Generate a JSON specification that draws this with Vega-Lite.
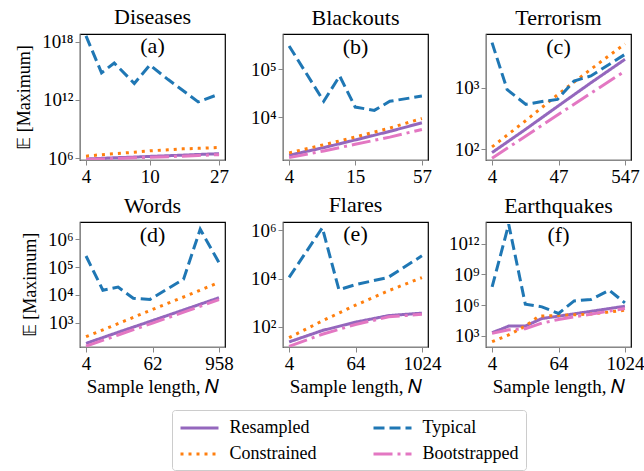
{
  "$schema": "https://vega.github.io/schema/vega-lite/v6.json",
  "background": "white",
  "padding": {"left": 15, "top": 5, "right": 5, "bottom": 5},
  "datasets": {
    "d": [
      {"panel": "Diseases", "series": "Resampled", "N": 4, "value": 7.94e5},
      {"panel": "Diseases", "series": "Resampled", "N": 5, "value": 9.33e5},
      {"panel": "Diseases", "series": "Resampled", "N": 6, "value": 1.07e6},
      {"panel": "Diseases", "series": "Resampled", "N": 8, "value": 1.26e6},
      {"panel": "Diseases", "series": "Resampled", "N": 10, "value": 1.48e6},
      {"panel": "Diseases", "series": "Resampled", "N": 13, "value": 1.74e6},
      {"panel": "Diseases", "series": "Resampled", "N": 16, "value": 2.0e6},
      {"panel": "Diseases", "series": "Resampled", "N": 20, "value": 2.34e6},
      {"panel": "Diseases", "series": "Resampled", "N": 27, "value": 2.82e6},
      {"panel": "Diseases", "series": "Constrained", "N": 4, "value": 1.58e6},
      {"panel": "Diseases", "series": "Constrained", "N": 5, "value": 2.24e6},
      {"panel": "Diseases", "series": "Constrained", "N": 6, "value": 2.82e6},
      {"panel": "Diseases", "series": "Constrained", "N": 8, "value": 3.98e6},
      {"panel": "Diseases", "series": "Constrained", "N": 10, "value": 5.62e6},
      {"panel": "Diseases", "series": "Constrained", "N": 13, "value": 7.08e6},
      {"panel": "Diseases", "series": "Constrained", "N": 16, "value": 8.91e6},
      {"panel": "Diseases", "series": "Constrained", "N": 20, "value": 1.0e7},
      {"panel": "Diseases", "series": "Constrained", "N": 27, "value": 1.26e7},
      {"panel": "Diseases", "series": "Typical", "N": 4, "value": 3.98e18},
      {"panel": "Diseases", "series": "Typical", "N": 5, "value": 6.31e14},
      {"panel": "Diseases", "series": "Typical", "N": 6, "value": 6.31e15},
      {"panel": "Diseases", "series": "Typical", "N": 8, "value": 5.01e13},
      {"panel": "Diseases", "series": "Typical", "N": 10, "value": 3.98e15},
      {"panel": "Diseases", "series": "Typical", "N": 13, "value": 1.26e14},
      {"panel": "Diseases", "series": "Typical", "N": 16, "value": 1.0e13},
      {"panel": "Diseases", "series": "Typical", "N": 20, "value": 6.31e11},
      {"panel": "Diseases", "series": "Typical", "N": 27, "value": 3.98e12},
      {"panel": "Diseases", "series": "Bootstrapped", "N": 4, "value": 7.08e5},
      {"panel": "Diseases", "series": "Bootstrapped", "N": 5, "value": 7.94e5},
      {"panel": "Diseases", "series": "Bootstrapped", "N": 6, "value": 8.91e5},
      {"panel": "Diseases", "series": "Bootstrapped", "N": 8, "value": 1.05e6},
      {"panel": "Diseases", "series": "Bootstrapped", "N": 10, "value": 1.2e6},
      {"panel": "Diseases", "series": "Bootstrapped", "N": 13, "value": 1.38e6},
      {"panel": "Diseases", "series": "Bootstrapped", "N": 16, "value": 1.58e6},
      {"panel": "Diseases", "series": "Bootstrapped", "N": 20, "value": 1.86e6},
      {"panel": "Diseases", "series": "Bootstrapped", "N": 27, "value": 2.24e6},

      {"panel": "Blackouts", "series": "Resampled", "N": 4, "value": 1585},
      {"panel": "Blackouts", "series": "Resampled", "N": 8, "value": 2291},
      {"panel": "Blackouts", "series": "Resampled", "N": 15, "value": 3311},
      {"panel": "Blackouts", "series": "Resampled", "N": 30, "value": 5012},
      {"panel": "Blackouts", "series": "Resampled", "N": 57, "value": 7586},
      {"panel": "Blackouts", "series": "Constrained", "N": 4, "value": 1778},
      {"panel": "Blackouts", "series": "Constrained", "N": 8, "value": 2630},
      {"panel": "Blackouts", "series": "Constrained", "N": 15, "value": 3802},
      {"panel": "Blackouts", "series": "Constrained", "N": 30, "value": 5888},
      {"panel": "Blackouts", "series": "Constrained", "N": 57, "value": 9333},
      {"panel": "Blackouts", "series": "Typical", "N": 4, "value": 3.09e5},
      {"panel": "Blackouts", "series": "Typical", "N": 8, "value": 2.14e4},
      {"panel": "Blackouts", "series": "Typical", "N": 11, "value": 7.24e4},
      {"panel": "Blackouts", "series": "Typical", "N": 15, "value": 1.62e4},
      {"panel": "Blackouts", "series": "Typical", "N": 22, "value": 1.38e4},
      {"panel": "Blackouts", "series": "Typical", "N": 30, "value": 2.14e4},
      {"panel": "Blackouts", "series": "Typical", "N": 57, "value": 2.75e4},
      {"panel": "Blackouts", "series": "Bootstrapped", "N": 4, "value": 1413},
      {"panel": "Blackouts", "series": "Bootstrapped", "N": 8, "value": 1950},
      {"panel": "Blackouts", "series": "Bootstrapped", "N": 15, "value": 2692},
      {"panel": "Blackouts", "series": "Bootstrapped", "N": 30, "value": 3802},
      {"panel": "Blackouts", "series": "Bootstrapped", "N": 57, "value": 5495},

      {"panel": "Terrorism", "series": "Resampled", "N": 4, "value": 89},
      {"panel": "Terrorism", "series": "Resampled", "N": 14, "value": 214},
      {"panel": "Terrorism", "series": "Resampled", "N": 47, "value": 513},
      {"panel": "Terrorism", "series": "Resampled", "N": 155, "value": 1202},
      {"panel": "Terrorism", "series": "Resampled", "N": 547, "value": 2884},
      {"panel": "Terrorism", "series": "Constrained", "N": 4, "value": 110},
      {"panel": "Terrorism", "series": "Constrained", "N": 14, "value": 295},
      {"panel": "Terrorism", "series": "Constrained", "N": 47, "value": 794},
      {"panel": "Terrorism", "series": "Constrained", "N": 155, "value": 1995},
      {"panel": "Terrorism", "series": "Constrained", "N": 547, "value": 5129},
      {"panel": "Terrorism", "series": "Typical", "N": 4, "value": 5370},
      {"panel": "Terrorism", "series": "Typical", "N": 7, "value": 933},
      {"panel": "Terrorism", "series": "Typical", "N": 14, "value": 537},
      {"panel": "Terrorism", "series": "Typical", "N": 27, "value": 603},
      {"panel": "Terrorism", "series": "Typical", "N": 45, "value": 646},
      {"panel": "Terrorism", "series": "Typical", "N": 83, "value": 1288},
      {"panel": "Terrorism", "series": "Typical", "N": 155, "value": 1549},
      {"panel": "Terrorism", "series": "Typical", "N": 547, "value": 3467},
      {"panel": "Terrorism", "series": "Bootstrapped", "N": 4, "value": 72},
      {"panel": "Terrorism", "series": "Bootstrapped", "N": 14, "value": 166},
      {"panel": "Terrorism", "series": "Bootstrapped", "N": 47, "value": 372},
      {"panel": "Terrorism", "series": "Bootstrapped", "N": 155, "value": 813},
      {"panel": "Terrorism", "series": "Bootstrapped", "N": 547, "value": 1862},

      {"panel": "Words", "series": "Resampled", "N": 4, "value": 182},
      {"panel": "Words", "series": "Resampled", "N": 15, "value": 457},
      {"panel": "Words", "series": "Resampled", "N": 62, "value": 1202},
      {"panel": "Words", "series": "Resampled", "N": 245, "value": 3090},
      {"panel": "Words", "series": "Resampled", "N": 958, "value": 7943},
      {"panel": "Words", "series": "Constrained", "N": 4, "value": 316},
      {"panel": "Words", "series": "Constrained", "N": 15, "value": 933},
      {"panel": "Words", "series": "Constrained", "N": 62, "value": 3020},
      {"panel": "Words", "series": "Constrained", "N": 245, "value": 9120},
      {"panel": "Words", "series": "Constrained", "N": 958, "value": 28200},
      {"panel": "Words", "series": "Typical", "N": 4, "value": 2.51e5},
      {"panel": "Words", "series": "Typical", "N": 8, "value": 1.48e4},
      {"panel": "Words", "series": "Typical", "N": 15, "value": 1.91e4},
      {"panel": "Words", "series": "Typical", "N": 28, "value": 7586},
      {"panel": "Words", "series": "Typical", "N": 56, "value": 6918},
      {"panel": "Words", "series": "Typical", "N": 110, "value": 1.58e4},
      {"panel": "Words", "series": "Typical", "N": 222, "value": 3.63e4},
      {"panel": "Words", "series": "Typical", "N": 442, "value": 2.29e6},
      {"panel": "Words", "series": "Typical", "N": 958, "value": 1.45e5},
      {"panel": "Words", "series": "Bootstrapped", "N": 4, "value": 145},
      {"panel": "Words", "series": "Bootstrapped", "N": 15, "value": 363},
      {"panel": "Words", "series": "Bootstrapped", "N": 62, "value": 977},
      {"panel": "Words", "series": "Bootstrapped", "N": 245, "value": 2570},
      {"panel": "Words", "series": "Bootstrapped", "N": 958, "value": 6761},

      {"panel": "Flares", "series": "Resampled", "N": 4, "value": 24},
      {"panel": "Flares", "series": "Resampled", "N": 16, "value": 71},
      {"panel": "Flares", "series": "Resampled", "N": 64, "value": 158},
      {"panel": "Flares", "series": "Resampled", "N": 256, "value": 295},
      {"panel": "Flares", "series": "Resampled", "N": 1024, "value": 372},
      {"panel": "Flares", "series": "Constrained", "N": 4, "value": 36},
      {"panel": "Flares", "series": "Constrained", "N": 16, "value": 178},
      {"panel": "Flares", "series": "Constrained", "N": 64, "value": 794},
      {"panel": "Flares", "series": "Constrained", "N": 256, "value": 3162},
      {"panel": "Flares", "series": "Constrained", "N": 1024, "value": 11000},
      {"panel": "Flares", "series": "Typical", "N": 4, "value": 1.12e4},
      {"panel": "Flares", "series": "Typical", "N": 16, "value": 1.26e6},
      {"panel": "Flares", "series": "Typical", "N": 32, "value": 3467},
      {"panel": "Flares", "series": "Typical", "N": 64, "value": 5623},
      {"panel": "Flares", "series": "Typical", "N": 250, "value": 1.12e4},
      {"panel": "Flares", "series": "Typical", "N": 1024, "value": 8.71e4},
      {"panel": "Flares", "series": "Bootstrapped", "N": 4, "value": 15.8},
      {"panel": "Flares", "series": "Bootstrapped", "N": 16, "value": 50},
      {"panel": "Flares", "series": "Bootstrapped", "N": 64, "value": 126},
      {"panel": "Flares", "series": "Bootstrapped", "N": 256, "value": 263},
      {"panel": "Flares", "series": "Bootstrapped", "N": 1024, "value": 331},

      {"panel": "Earthquakes", "series": "Resampled", "N": 4, "value": 2042},
      {"panel": "Earthquakes", "series": "Resampled", "N": 8, "value": 9120},
      {"panel": "Earthquakes", "series": "Resampled", "N": 16, "value": 9120},
      {"panel": "Earthquakes", "series": "Resampled", "N": 32, "value": 5.01e4},
      {"panel": "Earthquakes", "series": "Resampled", "N": 64, "value": 8.51e4},
      {"panel": "Earthquakes", "series": "Resampled", "N": 247, "value": 2.51e5},
      {"panel": "Earthquakes", "series": "Resampled", "N": 1024, "value": 7.94e5},
      {"panel": "Earthquakes", "series": "Constrained", "N": 4, "value": 275},
      {"panel": "Earthquakes", "series": "Constrained", "N": 8, "value": 1259},
      {"panel": "Earthquakes", "series": "Constrained", "N": 16, "value": 9120},
      {"panel": "Earthquakes", "series": "Constrained", "N": 28, "value": 8.51e4},
      {"panel": "Earthquakes", "series": "Constrained", "N": 64, "value": 1.0e5},
      {"panel": "Earthquakes", "series": "Constrained", "N": 247, "value": 1.35e5},
      {"panel": "Earthquakes", "series": "Constrained", "N": 1024, "value": 3.24e5},
      {"panel": "Earthquakes", "series": "Typical", "N": 4, "value": 6.03e7},
      {"panel": "Earthquakes", "series": "Typical", "N": 8, "value": 7.94e13},
      {"panel": "Earthquakes", "series": "Typical", "N": 16, "value": 1.26e6},
      {"panel": "Earthquakes", "series": "Typical", "N": 32, "value": 6.92e5},
      {"panel": "Earthquakes", "series": "Typical", "N": 64, "value": 1.55e5},
      {"panel": "Earthquakes", "series": "Typical", "N": 123, "value": 2.63e6},
      {"panel": "Earthquakes", "series": "Typical", "N": 247, "value": 3.55e6},
      {"panel": "Earthquakes", "series": "Typical", "N": 535, "value": 2.88e7},
      {"panel": "Earthquakes", "series": "Typical", "N": 1024, "value": 1.66e6},
      {"panel": "Earthquakes", "series": "Bootstrapped", "N": 4, "value": 1778},
      {"panel": "Earthquakes", "series": "Bootstrapped", "N": 8, "value": 3981},
      {"panel": "Earthquakes", "series": "Bootstrapped", "N": 16, "value": 5012},
      {"panel": "Earthquakes", "series": "Bootstrapped", "N": 32, "value": 1.78e4},
      {"panel": "Earthquakes", "series": "Bootstrapped", "N": 64, "value": 3.98e4},
      {"panel": "Earthquakes", "series": "Bootstrapped", "N": 123, "value": 7.24e4},
      {"panel": "Earthquakes", "series": "Bootstrapped", "N": 1024, "value": 4.68e5}
    ]
  },
  "data": {"name": "d"},
  "columns": 3,
  "spacing": {"row": 62, "column": 58},
  "bounds": "flush",
  "concat": [
    {
      "width": 145, "height": 126,
      "title": {"text": ["Diseases", "(a)"], "font": "Liberation Serif", "fontSize": 22, "fontWeight": "normal", "lineHeight": 29, "offset": -25},
      "transform": [{"filter": "datum.panel == 'Diseases'"}],
      "mark": {"type": "line", "strokeWidth": 3, "clip": true},
      "encoding": {
        "x": {"field": "N", "type": "quantitative", "scale": {"type": "log", "domain": [3.67, 29.4], "nice": false}, "axis": {"values": [4, 10, 27], "format": "d", "title": null, "grid": false, "labelFont": "Liberation Serif", "labelFontSize": 19}},
        "y": {"field": "value", "type": "quantitative", "scale": {"type": "log", "domain": [6.31e5, 6.31e18], "nice": false}, "axis": {"values": [1e6, 1e12, 1e18], "title": "𝔼 [Maximum]", "grid": false, "labelFont": "Liberation Serif", "labelFontSize": 19, "titleFont": "Liberation Serif", "titleFontSize": 18, "titleFontWeight": "normal", "titlePadding": 8, "labelExpr": "'10' + (round(log(datum.value)/LN10) >= 10 ? substring('⁰¹²³⁴⁵⁶⁷⁸⁹', floor(round(log(datum.value)/LN10)/10), floor(round(log(datum.value)/LN10)/10)+1) : '') + substring('⁰¹²³⁴⁵⁶⁷⁸⁹', round(log(datum.value)/LN10) % 10, round(log(datum.value)/LN10) % 10 + 1)"}},
        "color": {"field": "series", "type": "nominal", "scale": {"domain": ["Resampled", "Constrained", "Typical", "Bootstrapped"], "range": ["#9467bd", "#ff7f0e", "#1f77b4", "#e377c2"]}, "legend": {"title": null, "orient": "none", "legendX": 92, "legendY": 376, "columns": 2, "labelFont": "Liberation Serif", "labelFontSize": 18, "symbolType": "M-2,0H2", "symbolSize": 361, "symbolOffset": 9.5, "symbolStrokeWidth": 3, "strokeColor": "#cccccc", "cornerRadius": 3, "padding": 7, "fillColor": "white", "columnPadding": 50, "rowPadding": 6, "labelOffset": 19}},
        "strokeDash": {"field": "series", "type": "nominal", "scale": {"domain": ["Resampled", "Constrained", "Typical", "Bootstrapped"], "range": [[1, 0], [3, 5], [11, 5], [19, 5, 3, 5]]}, "legend": {"title": null, "orient": "none", "legendX": 92, "legendY": 376, "columns": 2, "labelFont": "Liberation Serif", "labelFontSize": 18, "symbolType": "M-2,0H2", "symbolSize": 361, "symbolOffset": 9.5, "symbolStrokeWidth": 3, "strokeColor": "#cccccc", "cornerRadius": 3, "padding": 7, "fillColor": "white", "columnPadding": 50, "rowPadding": 6, "labelOffset": 19}}
      }
    },
    {
      "width": 145, "height": 126,
      "title": {"text": ["Blackouts", "(b)"], "font": "Liberation Serif", "fontSize": 22, "fontWeight": "normal", "lineHeight": 29, "offset": -25},
      "transform": [{"filter": "datum.panel == 'Blackouts'"}],
      "mark": {"type": "line", "strokeWidth": 3, "clip": true},
      "encoding": {
        "x": {"field": "N", "type": "quantitative", "scale": {"type": "log", "domain": [3.54, 64.4], "nice": false}, "axis": {"values": [4, 15, 57], "format": "d", "title": null, "grid": false, "labelFont": "Liberation Serif", "labelFontSize": 19}},
        "y": {"field": "value", "type": "quantitative", "scale": {"type": "log", "domain": [1259, 5.5e5], "nice": false}, "axis": {"values": [1e4, 1e5], "title": null, "grid": false, "labelFont": "Liberation Serif", "labelFontSize": 19, "labelExpr": "'10' + (round(log(datum.value)/LN10) >= 10 ? substring('⁰¹²³⁴⁵⁶⁷⁸⁹', floor(round(log(datum.value)/LN10)/10), floor(round(log(datum.value)/LN10)/10)+1) : '') + substring('⁰¹²³⁴⁵⁶⁷⁸⁹', round(log(datum.value)/LN10) % 10, round(log(datum.value)/LN10) % 10 + 1)"}},
        "color": {"field": "series", "type": "nominal", "scale": {"domain": ["Resampled", "Constrained", "Typical", "Bootstrapped"], "range": ["#9467bd", "#ff7f0e", "#1f77b4", "#e377c2"]}, "legend": {"title": null, "orient": "none", "legendX": 92, "legendY": 376, "columns": 2, "labelFont": "Liberation Serif", "labelFontSize": 18, "symbolType": "M-2,0H2", "symbolSize": 361, "symbolOffset": 9.5, "symbolStrokeWidth": 3, "strokeColor": "#cccccc", "cornerRadius": 3, "padding": 7, "fillColor": "white", "columnPadding": 50, "rowPadding": 6, "labelOffset": 19}},
        "strokeDash": {"field": "series", "type": "nominal", "scale": {"domain": ["Resampled", "Constrained", "Typical", "Bootstrapped"], "range": [[1, 0], [3, 5], [11, 5], [19, 5, 3, 5]]}, "legend": {"title": null, "orient": "none", "legendX": 92, "legendY": 376, "columns": 2, "labelFont": "Liberation Serif", "labelFontSize": 18, "symbolType": "M-2,0H2", "symbolSize": 361, "symbolOffset": 9.5, "symbolStrokeWidth": 3, "strokeColor": "#cccccc", "cornerRadius": 3, "padding": 7, "fillColor": "white", "columnPadding": 50, "rowPadding": 6, "labelOffset": 19}}
      }
    },
    {
      "width": 145, "height": 126,
      "title": {"text": ["Terrorism", "(c)"], "font": "Liberation Serif", "fontSize": 22, "fontWeight": "normal", "lineHeight": 29, "offset": -25},
      "transform": [{"filter": "datum.panel == 'Terrorism'"}],
      "mark": {"type": "line", "strokeWidth": 3, "clip": true},
      "encoding": {
        "x": {"field": "N", "type": "quantitative", "scale": {"type": "log", "domain": [3.2, 684], "nice": false}, "axis": {"values": [4, 47, 547], "format": "d", "title": null, "grid": false, "labelFont": "Liberation Serif", "labelFontSize": 19}},
        "y": {"field": "value", "type": "quantitative", "scale": {"type": "log", "domain": [67.6, 7413], "nice": false}, "axis": {"values": [100, 1000], "title": null, "grid": false, "labelFont": "Liberation Serif", "labelFontSize": 19, "labelExpr": "'10' + (round(log(datum.value)/LN10) >= 10 ? substring('⁰¹²³⁴⁵⁶⁷⁸⁹', floor(round(log(datum.value)/LN10)/10), floor(round(log(datum.value)/LN10)/10)+1) : '') + substring('⁰¹²³⁴⁵⁶⁷⁸⁹', round(log(datum.value)/LN10) % 10, round(log(datum.value)/LN10) % 10 + 1)"}},
        "color": {"field": "series", "type": "nominal", "scale": {"domain": ["Resampled", "Constrained", "Typical", "Bootstrapped"], "range": ["#9467bd", "#ff7f0e", "#1f77b4", "#e377c2"]}, "legend": {"title": null, "orient": "none", "legendX": 92, "legendY": 376, "columns": 2, "labelFont": "Liberation Serif", "labelFontSize": 18, "symbolType": "M-2,0H2", "symbolSize": 361, "symbolOffset": 9.5, "symbolStrokeWidth": 3, "strokeColor": "#cccccc", "cornerRadius": 3, "padding": 7, "fillColor": "white", "columnPadding": 50, "rowPadding": 6, "labelOffset": 19}},
        "strokeDash": {"field": "series", "type": "nominal", "scale": {"domain": ["Resampled", "Constrained", "Typical", "Bootstrapped"], "range": [[1, 0], [3, 5], [11, 5], [19, 5, 3, 5]]}, "legend": {"title": null, "orient": "none", "legendX": 92, "legendY": 376, "columns": 2, "labelFont": "Liberation Serif", "labelFontSize": 18, "symbolType": "M-2,0H2", "symbolSize": 361, "symbolOffset": 9.5, "symbolStrokeWidth": 3, "strokeColor": "#cccccc", "cornerRadius": 3, "padding": 7, "fillColor": "white", "columnPadding": 50, "rowPadding": 6, "labelOffset": 19}}
      }
    },
    {
      "width": 145, "height": 125,
      "title": {"text": ["Words", "(d)"], "font": "Liberation Serif", "fontSize": 22, "fontWeight": "normal", "lineHeight": 29, "offset": -25},
      "transform": [{"filter": "datum.panel == 'Words'"}],
      "mark": {"type": "line", "strokeWidth": 3, "clip": true},
      "encoding": {
        "x": {"field": "N", "type": "quantitative", "scale": {"type": "log", "domain": [3.12, 1227], "nice": false}, "axis": {"values": [4, 62, 958], "format": "d", "title": "Sample length, 𝑁", "grid": false, "labelFont": "Liberation Serif", "labelFontSize": 19, "titleFont": "Liberation Serif", "titleFontSize": 19, "titleFontWeight": "normal"}},
        "y": {"field": "value", "type": "quantitative", "scale": {"type": "log", "domain": [135, 4.17e6], "nice": false}, "axis": {"values": [1e3, 1e4, 1e5, 1e6], "title": "𝔼 [Maximum]", "grid": false, "labelFont": "Liberation Serif", "labelFontSize": 19, "titleFont": "Liberation Serif", "titleFontSize": 18, "titleFontWeight": "normal", "titlePadding": 8, "labelExpr": "'10' + (round(log(datum.value)/LN10) >= 10 ? substring('⁰¹²³⁴⁵⁶⁷⁸⁹', floor(round(log(datum.value)/LN10)/10), floor(round(log(datum.value)/LN10)/10)+1) : '') + substring('⁰¹²³⁴⁵⁶⁷⁸⁹', round(log(datum.value)/LN10) % 10, round(log(datum.value)/LN10) % 10 + 1)"}},
        "color": {"field": "series", "type": "nominal", "scale": {"domain": ["Resampled", "Constrained", "Typical", "Bootstrapped"], "range": ["#9467bd", "#ff7f0e", "#1f77b4", "#e377c2"]}, "legend": {"title": null, "orient": "none", "legendX": 92, "legendY": 376, "columns": 2, "labelFont": "Liberation Serif", "labelFontSize": 18, "symbolType": "M-2,0H2", "symbolSize": 361, "symbolOffset": 9.5, "symbolStrokeWidth": 3, "strokeColor": "#cccccc", "cornerRadius": 3, "padding": 7, "fillColor": "white", "columnPadding": 50, "rowPadding": 6, "labelOffset": 19}},
        "strokeDash": {"field": "series", "type": "nominal", "scale": {"domain": ["Resampled", "Constrained", "Typical", "Bootstrapped"], "range": [[1, 0], [3, 5], [11, 5], [19, 5, 3, 5]]}, "legend": {"title": null, "orient": "none", "legendX": 92, "legendY": 376, "columns": 2, "labelFont": "Liberation Serif", "labelFontSize": 18, "symbolType": "M-2,0H2", "symbolSize": 361, "symbolOffset": 9.5, "symbolStrokeWidth": 3, "strokeColor": "#cccccc", "cornerRadius": 3, "padding": 7, "fillColor": "white", "columnPadding": 50, "rowPadding": 6, "labelOffset": 19}}
      }
    },
    {
      "width": 145, "height": 125,
      "title": {"text": ["Flares", "(e)"], "font": "Liberation Serif", "fontSize": 22, "fontWeight": "normal", "lineHeight": 29, "offset": -25},
      "transform": [{"filter": "datum.panel == 'Flares'"}],
      "mark": {"type": "line", "strokeWidth": 3, "clip": true},
      "encoding": {
        "x": {"field": "N", "type": "quantitative", "scale": {"type": "log", "domain": [3.1, 1320], "nice": false}, "axis": {"values": [4, 64, 1024], "format": "d", "title": "Sample length, 𝑁", "grid": false, "labelFont": "Liberation Serif", "labelFontSize": 19, "titleFont": "Liberation Serif", "titleFontSize": 19, "titleFontWeight": "normal"}},
        "y": {"field": "value", "type": "quantitative", "scale": {"type": "log", "domain": [14.8, 2.19e6], "nice": false}, "axis": {"values": [100, 1e4, 1e6], "title": null, "grid": false, "labelFont": "Liberation Serif", "labelFontSize": 19, "labelExpr": "'10' + (round(log(datum.value)/LN10) >= 10 ? substring('⁰¹²³⁴⁵⁶⁷⁸⁹', floor(round(log(datum.value)/LN10)/10), floor(round(log(datum.value)/LN10)/10)+1) : '') + substring('⁰¹²³⁴⁵⁶⁷⁸⁹', round(log(datum.value)/LN10) % 10, round(log(datum.value)/LN10) % 10 + 1)"}},
        "color": {"field": "series", "type": "nominal", "scale": {"domain": ["Resampled", "Constrained", "Typical", "Bootstrapped"], "range": ["#9467bd", "#ff7f0e", "#1f77b4", "#e377c2"]}, "legend": {"title": null, "orient": "none", "legendX": 92, "legendY": 376, "columns": 2, "labelFont": "Liberation Serif", "labelFontSize": 18, "symbolType": "M-2,0H2", "symbolSize": 361, "symbolOffset": 9.5, "symbolStrokeWidth": 3, "strokeColor": "#cccccc", "cornerRadius": 3, "padding": 7, "fillColor": "white", "columnPadding": 50, "rowPadding": 6, "labelOffset": 19}},
        "strokeDash": {"field": "series", "type": "nominal", "scale": {"domain": ["Resampled", "Constrained", "Typical", "Bootstrapped"], "range": [[1, 0], [3, 5], [11, 5], [19, 5, 3, 5]]}, "legend": {"title": null, "orient": "none", "legendX": 92, "legendY": 376, "columns": 2, "labelFont": "Liberation Serif", "labelFontSize": 18, "symbolType": "M-2,0H2", "symbolSize": 361, "symbolOffset": 9.5, "symbolStrokeWidth": 3, "strokeColor": "#cccccc", "cornerRadius": 3, "padding": 7, "fillColor": "white", "columnPadding": 50, "rowPadding": 6, "labelOffset": 19}}
      }
    },
    {
      "width": 145, "height": 125,
      "title": {"text": ["Earthquakes", "(f)"], "font": "Liberation Serif", "fontSize": 22, "fontWeight": "normal", "lineHeight": 29, "offset": -25},
      "transform": [{"filter": "datum.panel == 'Earthquakes'"}],
      "mark": {"type": "line", "strokeWidth": 3, "clip": true},
      "encoding": {
        "x": {"field": "N", "type": "quantitative", "scale": {"type": "log", "domain": [3.1, 1320], "nice": false}, "axis": {"values": [4, 64, 1024], "format": "d", "title": "Sample length, 𝑁", "grid": false, "labelFont": "Liberation Serif", "labelFontSize": 19, "titleFont": "Liberation Serif", "titleFontSize": 19, "titleFontWeight": "normal"}},
        "y": {"field": "value", "type": "quantitative", "scale": {"type": "log", "domain": [83, 1.32e14], "nice": false}, "axis": {"values": [1e3, 1e6, 1e9, 1e12], "title": null, "grid": false, "labelFont": "Liberation Serif", "labelFontSize": 19, "labelExpr": "'10' + (round(log(datum.value)/LN10) >= 10 ? substring('⁰¹²³⁴⁵⁶⁷⁸⁹', floor(round(log(datum.value)/LN10)/10), floor(round(log(datum.value)/LN10)/10)+1) : '') + substring('⁰¹²³⁴⁵⁶⁷⁸⁹', round(log(datum.value)/LN10) % 10, round(log(datum.value)/LN10) % 10 + 1)"}},
        "color": {"field": "series", "type": "nominal", "scale": {"domain": ["Resampled", "Constrained", "Typical", "Bootstrapped"], "range": ["#9467bd", "#ff7f0e", "#1f77b4", "#e377c2"]}, "legend": {"title": null, "orient": "none", "legendX": 92, "legendY": 376, "columns": 2, "labelFont": "Liberation Serif", "labelFontSize": 18, "symbolType": "M-2,0H2", "symbolSize": 361, "symbolOffset": 9.5, "symbolStrokeWidth": 3, "strokeColor": "#cccccc", "cornerRadius": 3, "padding": 7, "fillColor": "white", "columnPadding": 50, "rowPadding": 6, "labelOffset": 19}},
        "strokeDash": {"field": "series", "type": "nominal", "scale": {"domain": ["Resampled", "Constrained", "Typical", "Bootstrapped"], "range": [[1, 0], [3, 5], [11, 5], [19, 5, 3, 5]]}, "legend": {"title": null, "orient": "none", "legendX": 92, "legendY": 376, "columns": 2, "labelFont": "Liberation Serif", "labelFontSize": 18, "symbolType": "M-2,0H2", "symbolSize": 361, "symbolOffset": 9.5, "symbolStrokeWidth": 3, "strokeColor": "#cccccc", "cornerRadius": 3, "padding": 7, "fillColor": "white", "columnPadding": 50, "rowPadding": 6, "labelOffset": 19}}
      }
    }
  ],
  "config": {
    "view": {"stroke": "black", "strokeWidth": 1.2}
  }
}
